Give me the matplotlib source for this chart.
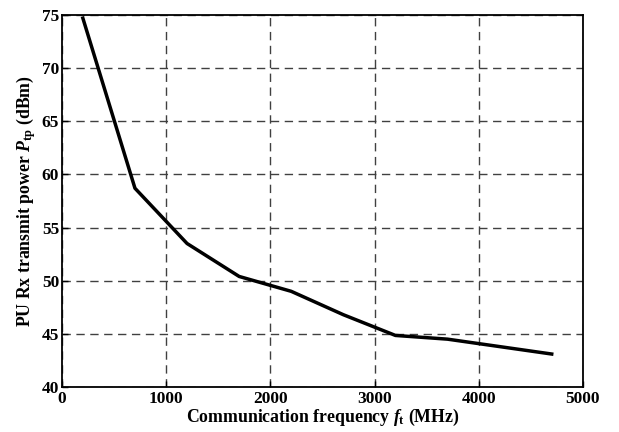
import matplotlib
matplotlib.use("Agg")
import matplotlib.pyplot as plt

# frequency (MHz) vs PU Rx transmit power (dBm)
freq_mhz = [200, 700, 1200, 1700, 2200, 2700, 3200, 3700, 4700]
power_dbm = [74.7, 58.7, 53.5, 50.4, 49.0, 46.8, 44.85, 44.5, 43.1]

x_ticks = [0, 1000, 2000, 3000, 4000, 5000]
y_ticks = [40, 45, 50, 55, 60, 65, 70, 75]

plt.rcParams['font.family'] = 'Liberation Serif'
plt.rcParams['font.weight'] = 'bold'
plt.rcParams['mathtext.fontset'] = 'custom'
plt.rcParams['mathtext.rm'] = 'Liberation Serif:bold'
plt.rcParams['mathtext.it'] = 'Liberation Serif:bold:italic'

fig = plt.figure(figsize=(6.19, 4.32), dpi=100)
ax = fig.add_axes([0.1002, 0.1042, 0.8416, 0.8611])

ax.plot(freq_mhz, power_dbm, color='black', linewidth=2.5, zorder=3)

ax.set_xlim(0, 5000)
ax.set_ylim(40, 75)
ax.set_xticks(x_ticks)
ax.set_yticks(y_ticks)
ax.tick_params(direction='in', length=4, width=1, labelsize=12.5)
ax.tick_params(axis='x', pad=3)
ax.tick_params(axis='y', pad=2)
for lbl in ax.get_xticklabels() + ax.get_yticklabels():
    lbl.set_fontweight('bold')

ax.grid(True, color='0.25', linestyle=(0, (6, 4)), linewidth=1.0)
for sp in ax.spines.values():
    sp.set_linewidth(1.3)

ax.set_xlabel(r'Communication frequency $f_{\rm t}$ (MHz)', fontsize=12.8, fontweight='bold', labelpad=0)
ax.set_ylabel(r'PU Rx transmit power $P_{\rm tp}$ (dBm)', fontsize=12.8, fontweight='bold', labelpad=3)

fig.savefig('out.png', dpi=100)
